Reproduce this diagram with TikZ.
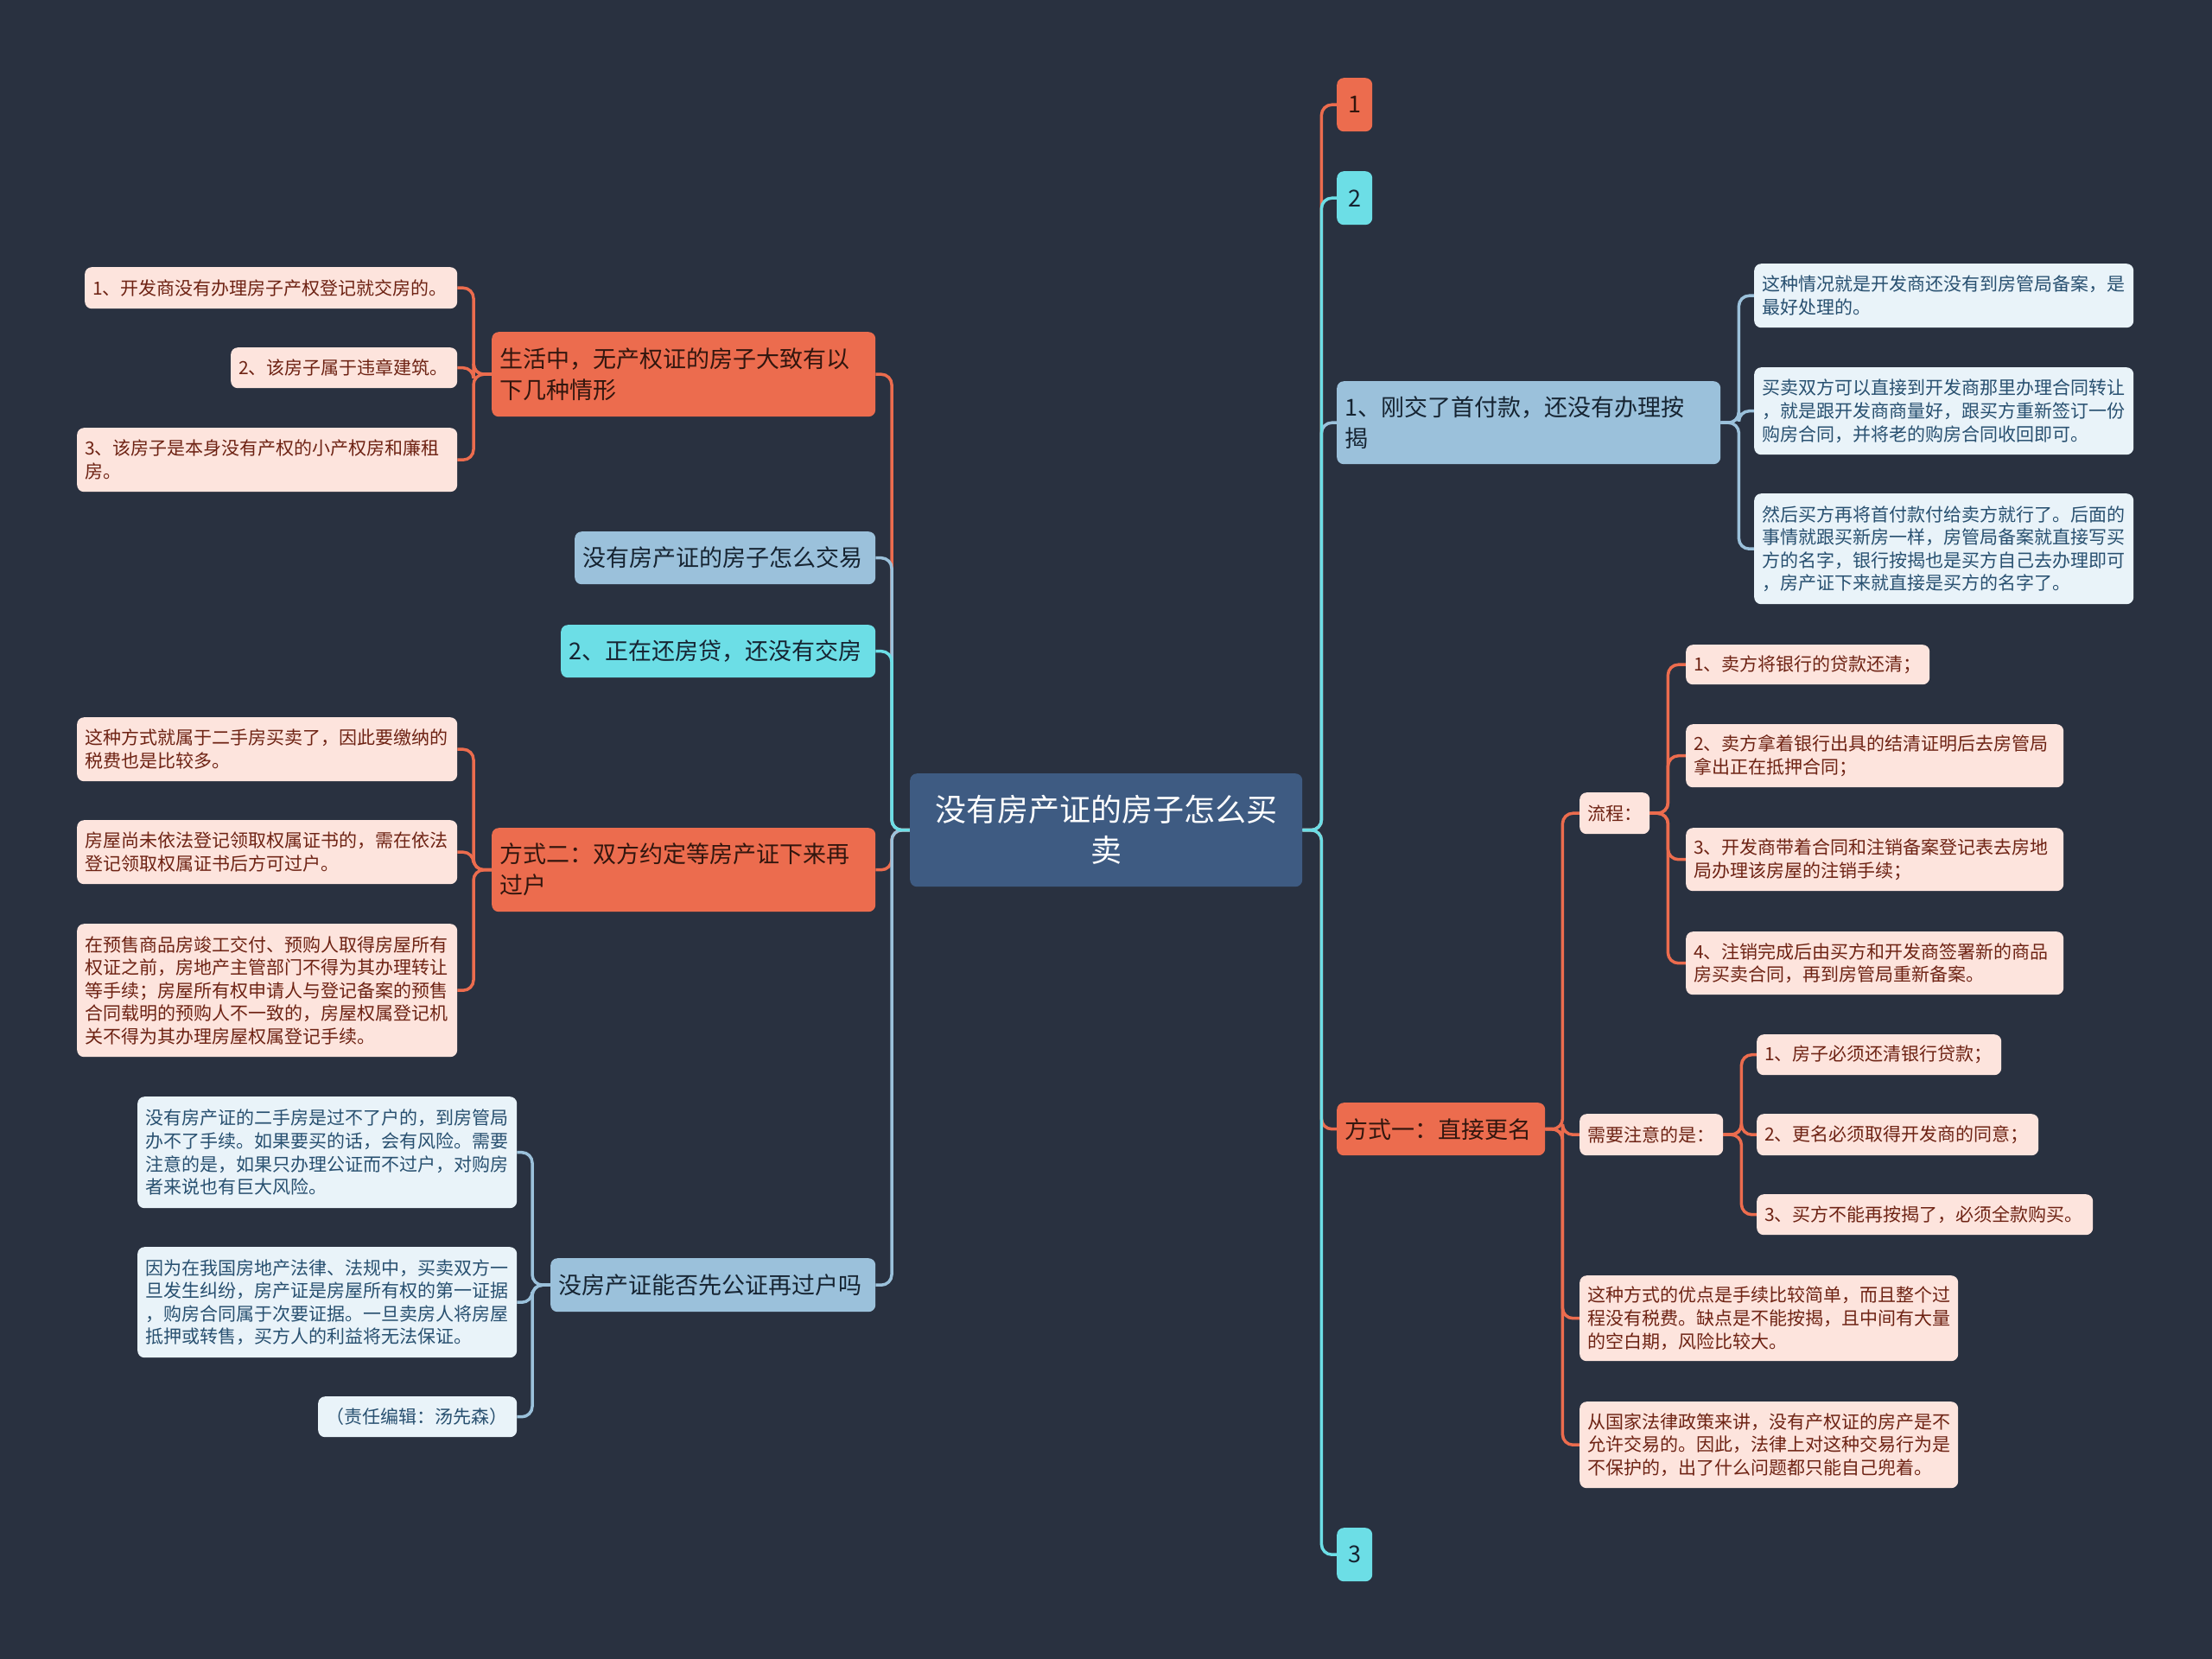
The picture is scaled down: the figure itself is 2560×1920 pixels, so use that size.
\documentclass[tikz,border=0pt]{standalone}
\usepackage{fontspec}
\setmainfont{Noto Sans CJK SC}
\usetikzlibrary{backgrounds}
\definecolor{bg}{RGB}{41,49,64}
\definecolor{cen}{RGB}{62,91,130}
\definecolor{org}{RGB}{236,108,78}
\definecolor{lbl}{RGB}{155,193,219}
\definecolor{cyn}{RGB}{108,222,230}
\definecolor{lfo}{RGB}{253,228,221}
\definecolor{lfb}{RGB}{233,243,249}
\definecolor{txo}{RGB}{110,35,20}
\definecolor{txb}{RGB}{40,80,112}
\definecolor{txd}{RGB}{50,22,14}
\definecolor{txn}{RGB}{22,36,50}
\tikzset{
  nb/.style={rounded corners=8pt, inner xsep=9pt, inner ysep=2pt, align=left},
  leafo/.style={nb, fill=lfo, text=txo, font=\fontsize{21}{26.6}\selectfont},
  leafb/.style={nb, fill=lfb, text=txb, font=\fontsize{21}{26.6}\selectfont},
  mainO/.style={nb, fill=org, text=txd, font=\fontsize{27}{36}\selectfont},
  mainL/.style={nb, fill=lbl, text=txn, font=\fontsize{27}{36}\selectfont},
  mainC/.style={nb, fill=cyn, text=txn, font=\fontsize{27}{36}\selectfont},
  cent/.style={nb, fill=cen, text=white, align=center, font=\fontsize{36}{47}\selectfont},
  lk/.style={line width=3.5pt, rounded corners=12pt},
}
\newcommand\BX[7]{%
  \pgfmathsetmacro\BXw{#5-#3}%
  \pgfmathsetmacro\BXh{#6-#4}%
  \pgfmathsetmacro\BXt{#5-#3-18}%
  \node[#1, anchor=north west, minimum width=\BXw pt, minimum height=\BXh pt, text width=\BXt pt] (#2) at (#3,#4) {#7};}
\begin{document}
\begin{tikzpicture}[x=1pt,y=-1pt]
\useasboundingbox (0,0) rectangle (2560,1920);
% center
\BX{cent}{C}{1053}{895}{1507}{1026}{没有房产证的房子怎么买\\卖}
% left side
\BX{mainO}{A}{569}{384}{1013}{482}{生活中，无产权证的房子大致有以\\下几种情形}
\BX{leafo}{L1}{98}{309}{529}{357}{1、开发商没有办理房子产权登记就交房的。}
\BX{leafo}{L2}{267}{402}{529}{449}{2、该房子属于违章建筑。}
\BX{leafo}{L3}{89}{495}{529}{569}{3、该房子是本身没有产权的小产权房和廉租\\房。}
\BX{mainL}{B}{665}{615}{1013}{676}{没有房产证的房子怎么交易}
\BX{mainC}{Cn}{649}{723}{1013}{784}{2、正在还房贷，还没有交房}
\BX{mainO}{D}{569}{958}{1013}{1055}{方式二：双方约定等房产证下来再\\过户}
\BX{leafo}{M1}{89}{830}{529}{904}{这种方式就属于二手房买卖了，因此要缴纳的\\税费也是比较多。}
\BX{leafo}{M2}{89}{949}{529}{1023}{房屋尚未依法登记领取权属证书的，需在依法\\登记领取权属证书后方可过户。}
\BX{leafo}{M3}{89}{1069}{529}{1223}{在预售商品房竣工交付、预购人取得房屋所有\\权证之前，房地产主管部门不得为其办理转让\\等手续；房屋所有权申请人与登记备案的预售\\合同载明的预购人不一致的，房屋权属登记机\\关不得为其办理房屋权属登记手续。}
\BX{mainL}{E}{637}{1456}{1013}{1518}{没房产证能否先公证再过户吗}
\BX{leafb}{N1}{159}{1269}{598}{1398}{没有房产证的二手房是过不了户的，到房管局\\办不了手续。如果要买的话，会有风险。需要\\注意的是，如果只办理公证而不过户，对购房\\者来说也有巨大风险。}
\BX{leafb}{N2}{159}{1443}{598}{1571}{因为在我国房地产法律、法规中，买卖双方一\\旦发生纠纷，房产证是房屋所有权的第一证据\\，购房合同属于次要证据。一旦卖房人将房屋\\抵押或转售，买方人的利益将无法保证。}
\BX{leafb}{N3}{368}{1616}{598}{1663}{（责任编辑：汤先森）}
% right side
\BX{mainO,align=center}{R1}{1547}{90}{1588}{152}{1}
\BX{mainC,align=center}{R2}{1547}{198}{1588}{260}{2}
\BX{mainC,align=center}{R3}{1547}{1768}{1588}{1830}{3}
\BX{mainL}{F}{1547}{441}{1991}{537}{1、刚交了首付款，还没有办理按\\揭}
\BX{leafb}{F1}{2030}{305}{2469}{379}{这种情况就是开发商还没有到房管局备案，是\\最好处理的。}
\BX{leafb}{F2}{2030}{425}{2469}{526}{买卖双方可以直接到开发商那里办理合同转让\\，就是跟开发商商量好，跟买方重新签订一份\\购房合同，并将老的购房合同收回即可。}
\BX{leafb}{F3}{2030}{571}{2469}{699}{然后买方再将首付款付给卖方就行了。后面的\\事情就跟买新房一样，房管局备案就直接写买\\方的名字，银行按揭也是买方自己去办理即可\\，房产证下来就直接是买方的名字了。}
\BX{mainO}{G}{1547}{1276}{1788}{1337}{方式一：直接更名}
\BX{leafo}{G1}{1828}{917}{1909}{965}{流程：}
\BX{leafo}{G1a}{1951}{746}{2233}{792}{1、卖方将银行的贷款还清；}
\BX{leafo}{G1b}{1951}{838}{2388}{911}{2、卖方拿着银行出具的结清证明后去房管局\\拿出正在抵押合同；}
\BX{leafo}{G1c}{1951}{958}{2388}{1031}{3、开发商带着合同和注销备案登记表去房地\\局办理该房屋的注销手续；}
\BX{leafo}{G1d}{1951}{1078}{2388}{1151}{4、注销完成后由买方和开发商签署新的商品\\房买卖合同，再到房管局重新备案。}
\BX{leafo}{G2}{1828}{1289}{1994}{1337}{需要注意的是：}
\BX{leafo}{G2a}{2033}{1197}{2316}{1244}{1、房子必须还清银行贷款；}
\BX{leafo}{G2b}{2033}{1289}{2359}{1337}{2、更名必须取得开发商的同意；}
\BX{leafo}{G2c}{2033}{1382}{2422}{1429}{3、买方不能再按揭了，必须全款购买。}
\BX{leafo}{G3}{1828}{1476}{2266}{1575}{这种方式的优点是手续比较简单，而且整个过\\程没有税费。缺点是不能按揭，且中间有大量\\的空白期，风险比较大。}
\BX{leafo}{G4}{1828}{1622}{2266}{1722}{从国家法律政策来讲，没有产权证的房产是不\\允许交易的。因此，法律上对这种交易行为是\\不保护的，出了什么问题都只能自己兜着。}
% connectors
\begin{scope}[on background layer]
\fill[bg] (0,0) rectangle (2560,1920);
% center -> right
\draw[lk, org] (C.east) -- ++(22,0) |- (R1.west);
\draw[lk, org] (C.east) -- ++(22,0) |- (G.west);
\draw[lk, lbl] (C.east) -- ++(22,0) |- (F.west);
\draw[lk, cyn] (C.east) -- ++(22,0) |- (R2.west);
\draw[lk, cyn] (C.east) -- ++(22,0) |- (R3.west);
% center -> left
\draw[lk, org] (C.west) -- ++(-21,0) |- (A.east);
\draw[lk, org] (C.west) -- ++(-21,0) |- (D.east);
\draw[lk, lbl] (C.west) -- ++(-21,0) |- (B.east);
\draw[lk, lbl] (C.west) -- ++(-21,0) |- (E.east);
\draw[lk, cyn] (C.west) -- ++(-21,0) |- (Cn.east);
% A leaves
\foreach \n in {L1,L2,L3} \draw[lk, org] (A.west) -- ++(-21,0) |- (\n.east);
\foreach \n in {M1,M2,M3} \draw[lk, org] (D.west) -- ++(-21,0) |- (\n.east);
\foreach \n in {N1,N2,N3} \draw[lk, lbl] (E.west) -- ++(-21,0) |- (\n.east);
\foreach \n in {F1,F2,F3} \draw[lk, lbl] (F.east) -- ++(21,0) |- (\n.west);
\foreach \n in {G1,G2,G3,G4} \draw[lk, org] (G.east) -- ++(20,0) |- (\n.west);
\foreach \n in {G1a,G1b,G1c,G1d} \draw[lk, org] (G1.east) -- ++(21,0) |- (\n.west);
\foreach \n in {G2a,G2b,G2c} \draw[lk, org] (G2.east) -- ++(21,0) |- (\n.west);
\end{scope}
\end{tikzpicture}
\end{document}
